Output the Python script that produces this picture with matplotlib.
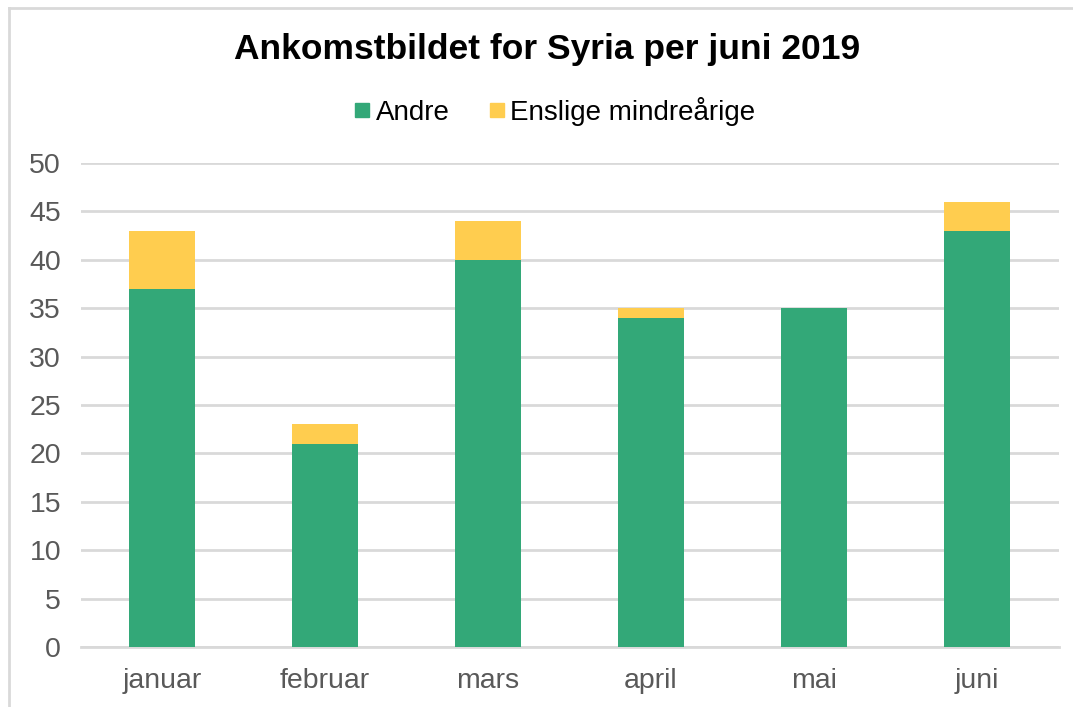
import matplotlib.pyplot as plt
from matplotlib.lines import Line2D
import numpy as np

months = ["januar", "februar", "mars", "april", "mai", "juni"]
andre = [37, 21, 40, 34, 35, 43]
enslige = [6, 2, 4, 1, 0, 3]

GREEN = "#33a878"
YELLOW = "#ffcd4f"
GRID = "#d9d9d9"
TEXT = "#595959"

plt.rcParams["font.family"] = ["Liberation Sans", "DejaVu Sans"]

fig = plt.figure(figsize=(10.73, 7.07), dpi=100)
ax = fig.add_axes([80.5 / 1073, 1 - 647 / 707, (1058.5 - 80.5) / 1073, (647 - 163) / 707])

x = np.arange(len(months))
ax.bar(x, andre, width=0.4, color=GREEN, label="Andre", zorder=3)
ax.bar(x, enslige, width=0.4, bottom=andre, color=YELLOW,
       label="Enslige mindreårige", zorder=3)

ax.set_xlim(-0.5, len(months) - 0.5)
ax.set_ylim(0, 50)
ax.set_yticks(range(0, 51, 5))
ax.set_xticks(x, months)
ax.grid(True, axis="y", color=GRID, linewidth=2, zorder=0)
for side in ("top", "right", "left"):
    ax.spines[side].set_visible(False)
ax.spines["bottom"].set_color(GRID)
ax.spines["bottom"].set_linewidth(2)
ax.tick_params(axis="both", length=0, labelsize=20.5, labelcolor=TEXT)
ax.tick_params(axis="y", pad=14)
ax.tick_params(axis="x", pad=15)

fig.text(547 / 1073, 1 - 50 / 707, "Ankomstbildet for Syria per juni 2019",
         ha="center", va="center", fontsize=25.5, fontweight="bold", color="black")

handles = [
    Line2D([], [], marker="s", linestyle="none", markersize=10, color=GREEN),
    Line2D([], [], marker="s", linestyle="none", markersize=10, color=YELLOW),
]
fig.legend(handles, ["Andre", "Enslige mindreårige"], loc="center",
           bbox_to_anchor=(553 / 1073, 1 - 111 / 707), ncol=2, frameon=False,
           fontsize=20, handletextpad=0.1, columnspacing=1.3, handlelength=0.8)

# chart frame (top and left edges visible in the crop)
fig.add_artist(Line2D([9 / 1073, 9 / 1073], [0, 1 - 8 / 707],
                      transform=fig.transFigure, color=GRID, linewidth=2))
fig.add_artist(Line2D([9 / 1073, 1], [1 - 8 / 707, 1 - 8 / 707],
                      transform=fig.transFigure, color=GRID, linewidth=2))

fig.savefig("out.png", dpi=100, facecolor="white")
